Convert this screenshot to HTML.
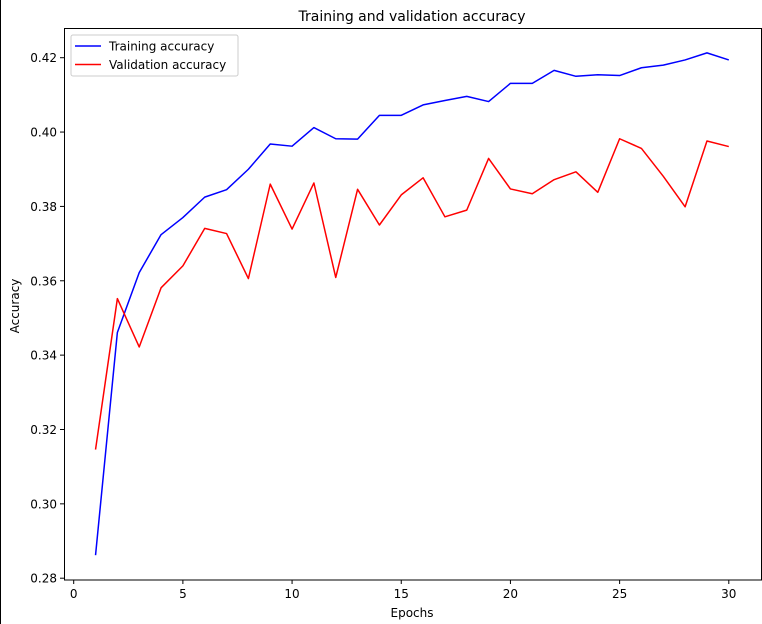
<!DOCTYPE html>
<html><head><meta charset="utf-8"><style>
html,body{margin:0;padding:0;background:#fff;}
svg{display:block;font-family:"DejaVu Sans","Liberation Sans",sans-serif;}
</style></head><body>
<svg id="chart" width="762" height="624" viewBox="0 0 762 624">
<line x1="0.5" y1="0" x2="0.5" y2="624" stroke="#000" stroke-width="1"/>
<text x="412" y="21" font-size="14" text-anchor="middle">Training and validation accuracy</text>
<g id="axes"></g>
<g id="lines"></g>
<rect x="64.5" y="28.5" width="697" height="551.5" fill="none" stroke="#000" stroke-width="1"/>
<text x="412" y="617" font-size="12" text-anchor="middle">Epochs</text>
<text x="0" y="0" font-size="12" text-anchor="middle" transform="translate(19,306) rotate(-90)">Accuracy</text>
<g>
<rect x="71" y="35" width="167" height="41" rx="2" fill="#fff" fill-opacity="0.8" stroke="#ccc"/>
<line x1="75" y1="46" x2="101" y2="46" stroke="#0000ff" stroke-width="1.5"/>
<text x="109" y="50.5" font-size="12">Training accuracy</text>
<line x1="75" y1="64.5" x2="101" y2="64.5" stroke="#ff0000" stroke-width="1.5"/>
<text x="109" y="69" font-size="12">Validation accuracy</text>
</g>
</svg>
<script>
const epochs = [1,2,3,4,5,6,7,8,9,10,11,12,13,14,15,16,17,18,19,20,21,22,23,24,25,26,27,28,29,30];
const trainAcc = [0.2862,0.3461,0.3622,0.3724,0.3770,0.3825,0.3845,0.3900,0.3968,0.3962,0.4012,0.3982,0.3981,0.4045,0.4045,0.4073,0.4085,0.4096,0.4082,0.4131,0.4131,0.4166,0.4150,0.4154,0.4152,0.4173,0.4180,0.4194,0.4213,0.4194];
const valAcc = [0.3146,0.3552,0.3422,0.3581,0.3640,0.3741,0.3727,0.3606,0.3860,0.3739,0.3863,0.3609,0.3846,0.3750,0.3831,0.3877,0.3772,0.3790,0.3929,0.3847,0.3834,0.3872,0.3893,0.3838,0.3982,0.3956,0.3881,0.3799,0.3976,0.3961];
const xTicks = [0,5,10,15,20,25,30];
const yTicks = [0.28,0.30,0.32,0.34,0.36,0.38,0.40,0.42];
const yTickLabels = ["0.28","0.30","0.32","0.34","0.36","0.38","0.40","0.42"];

const NS = "http://www.w3.org/2000/svg";
function xScale(v){ return 73.7 + v * (728.8 - 73.7) / 30; }
function yScale(v){ return 578.2 - (v - 0.28) * (578.2 - 57.7) / 0.14; }
function mk(tag, attrs, parent){ const e = document.createElementNS(NS, tag); for (const k in attrs) e.setAttribute(k, attrs[k]); parent.appendChild(e); return e; }

const axes = document.getElementById('axes');
xTicks.forEach(t => {
  const x = xScale(t);
  const l = mk('line', {x1:x, x2:x, y1:580, y2:584, stroke:'#000'}, axes);
  
  
  const tx = mk('text', {x:x, y:598, 'font-size':12, 'text-anchor':'middle'}, axes);
  tx.textContent = String(t);
  
  
});
yTicks.forEach((t, i) => {
  const y = yScale(t);
  const l = mk('line', {x1:60, x2:64.5, y1:y, y2:y, stroke:'#000'}, axes);
  
  
  const tx = mk('text', {x:57, y:y + 4.5, 'font-size':12, 'text-anchor':'end'}, axes);
  tx.textContent = yTickLabels[i];
  
  
});

const lines = document.getElementById('lines');
function pts(arr){ return arr.map((v, i) => xScale(epochs[i]).toFixed(2) + ',' + yScale(v).toFixed(2)).join(' '); }
const tl = mk('polyline', {points:pts(trainAcc), fill:'none', stroke:'#0000ff', 'stroke-width':1.5, 'stroke-linejoin':'round'}, lines);


const vl = mk('polyline', {points:pts(valAcc), fill:'none', stroke:'#ff0000', 'stroke-width':1.5, 'stroke-linejoin':'round'}, lines);


</script>
</body></html>
